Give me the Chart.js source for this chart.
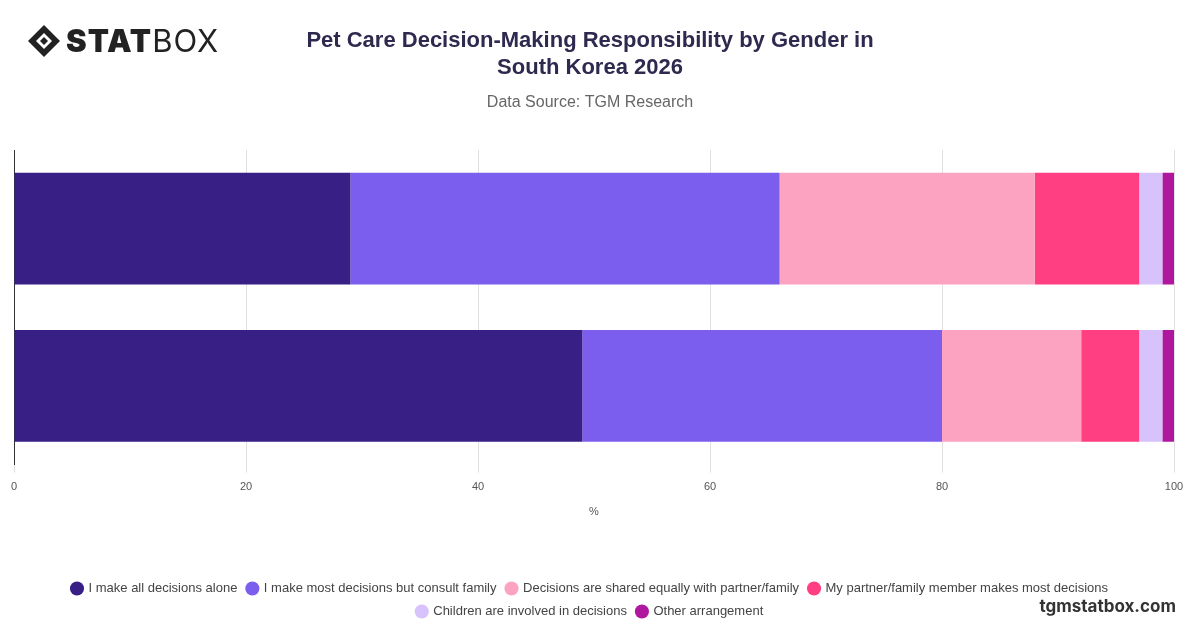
<!DOCTYPE html>
<html><head><meta charset="utf-8">
<script src="https://cdn.jsdelivr.net/npm/chart.js@4"></script>
<style>
html,body{margin:0;padding:0;background:#fff;width:1200px;height:628px;overflow:hidden;font-family:Inter,"Open Sans",sans-serif}
#wrap{position:absolute;left:0;top:0;width:1200px;height:628px}
#logo{position:absolute;left:26px;top:22px;font-size:31px;color:#222;letter-spacing:1px;display:flex;align-items:center}
#logo b{font-weight:900}
#foot{position:absolute;right:24px;top:596px;font-size:17px;font-weight:700;color:#333}
</style></head><body>
<div id="wrap"><canvas id="c" width="1200" height="628"></canvas></div>
<div id="logo"><svg width="36" height="36" viewBox="0 0 36 36"><path d="M18 2 L34 18 L18 34 L2 18 Z" fill="#222"/><path d="M18 10 L26 18 L18 26 L10 18 Z" fill="#fff"/><path d="M18 14 L22 18 L18 22 L14 18 Z" fill="#222"/></svg><span style="margin-left:4px"><b>STAT</b>BOX</span></div>
<div id="foot">tgmstatbox.com</div>
<script>
const categories = ["Male", "Female"];
const seriesNames = ["I make all decisions alone","I make most decisions but consult family","Decisions are shared equally with partner/family","My partner/family member makes most decisions","Children are involved in decisions","Other arrangement"];
const alone = [29, 49];
const consult = [37, 31];
const shared = [22, 12];
const partner = [9, 5];
const children = [2, 2];
const other = [1, 1];
const xTicks = [0, 20, 40, 60, 80, 100];
const colors = ["#371F86","#7B5EEE","#FCA3C2","#FF3F82","#D7C2FB","#B0179F"];
const values = [alone, consult, shared, partner, children, other];
new Chart(document.getElementById('c'), {
  type: 'bar',
  data: { labels: categories, datasets: values.map((v,i)=>({label: seriesNames[i], data: v, backgroundColor: colors[i], borderWidth: 0, barPercentage: 0.71, categoryPercentage: 1})) },
  options: {
    indexAxis: 'y', responsive: false, animation: false,
    layout: { padding: { left: 6, right: 26, top: 16, bottom: 0 } },
    scales: {
      x: { stacked: true, min: 0, max: 100, ticks: { stepSize: 20, color: '#555', font: { size: 11 }, padding: 8 },
           grid: { color: '#e0e0e0', drawTicks: true, tickLength: 8 }, border: { display: false },
           title: { display: true, text: '%', color: '#555', font: { size: 11 }, padding: { top: 4, bottom: 53 } } },
      y: { stacked: true, ticks: { display: false }, grid: { display: false }, border: { color: '#333' } }
    },
    plugins: {
      title: { display: true, text: ['Pet Care Decision-Making Responsibility by Gender in','South Korea 2026'], color: '#2e2a4f', font: { size: 22, weight: 'bold' }, padding: { top: 12, bottom: 12 } },
      subtitle: { display: true, text: 'Data Source: TGM Research', color: '#666', font: { size: 16 }, padding: { bottom: 38 } },
      legend: { position: 'bottom', labels: { usePointStyle: true, pointStyle: 'circle', boxWidth: 10, boxHeight: 10, padding: 10, color: '#444', font: { size: 13 } } },
      tooltip: { enabled: false }
    }
  }
});
</script></body></html>
